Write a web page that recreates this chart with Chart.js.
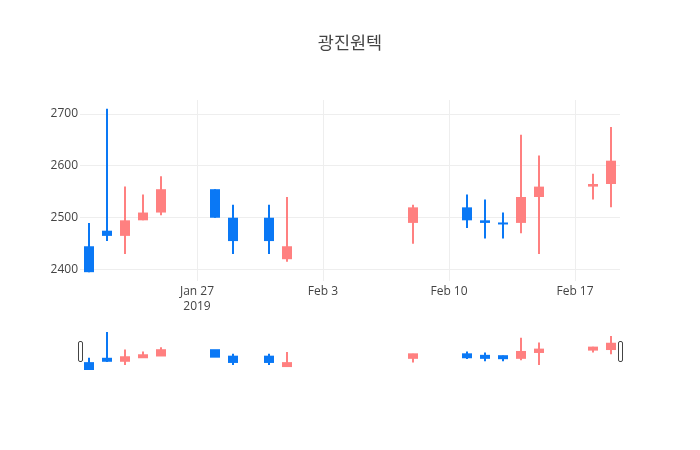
<!DOCTYPE html>
<html><head><meta charset="utf-8">
<script src="https://cdn.jsdelivr.net/npm/chart.js@4.4.1/dist/chart.umd.min.js"></script>
<style>
html,body{margin:0;padding:0;background:#fff;}
#wrap{position:relative;width:700px;height:450px;}
canvas{position:absolute;left:0;top:0;}
</style>
</head><body>
<div id="wrap"><canvas id="main" width="700" height="450"></canvas><canvas id="slider" width="700" height="450"></canvas></div>
<script>
const TITLE = '광진원텍';
const DATES = ['2019-01-21','2019-01-22','2019-01-23','2019-01-24','2019-01-25','2019-01-28','2019-01-29','2019-01-31','2019-02-01','2019-02-08','2019-02-11','2019-02-12','2019-02-13','2019-02-14','2019-02-15','2019-02-18','2019-02-19'];
const OPEN  = [2445,2475,2465,2495,2510,2555,2500,2500,2420,2490,2520,2495,2490,2490,2540,2560,2565];
const HIGH  = [2490,2710,2560,2545,2580,2555,2525,2525,2540,2525,2545,2535,2510,2660,2620,2585,2675];
const LOW   = [2395,2455,2430,2495,2505,2500,2430,2430,2415,2450,2480,2460,2460,2470,2430,2535,2520];
const CLOSE = [2395,2465,2495,2510,2555,2500,2455,2455,2445,2520,2495,2490,2487,2540,2560,2565,2610];
const Y_TICKS = [2400,2500,2600,2700];
const X_TICK_DATES = ['2019-01-27','2019-02-03','2019-02-10','2019-02-17'];
const X_TICK_LABELS = [['Jan 27','2019'],['Feb 3'],['Feb 10'],['Feb 17']];
const X_RANGE = ['2019-01-20T12','2019-02-19T12'];
const Y_RANGE = [2378, 2727];

const UP = '#ff8080', DOWN = '#0a78f5';
const FONT = "'Open Sans', 'Noto Sans CJK KR', sans-serif";
const BASE = Date.UTC(2019,0,27);
function toDay(s){
  const parts = s.split('T');
  const [Y,M,D] = parts[0].split('-').map(Number);
  const h = parts[1] ? Number(parts[1]) : 0;
  return (Date.UTC(Y,M-1,D,h) - BASE)/86400000;
}
const X_TICKS = X_TICK_DATES.map(toDay);
const colors = DATES.map((d,i)=> CLOSE[i] > OPEN[i] ? UP : DOWN);

function makeDatasets(bodyWidth, inflate){
  return [
    {data: DATES.map((d,i)=>({x:toDay(d), y:[LOW[i],HIGH[i]]})), backgroundColor: colors, barThickness: 2, grouped:false, borderWidth:0, inflateAmount:0},
    {data: DATES.map((d,i)=>({x:toDay(d), y:[OPEN[i],CLOSE[i]]})), backgroundColor: colors, barThickness: bodyWidth, grouped:false, borderWidth:0, minBarLength:2, inflateAmount:inflate}
  ];
}

new Chart(document.getElementById('main'), {
  type:'bar',
  data:{datasets: makeDatasets(10, 0)},
  options:{
    responsive:false, animation:false,
    layout:{padding:{left:0,right:0,top:0,bottom:129}},
    plugins:{legend:{display:false}, tooltip:{enabled:false},
      title:{display:true, text:TITLE, color:'#444', font:{family:FONT,size:17.5,weight:'normal',lineHeight:1.2}, padding:{top:34,bottom:45}}},
    scales:{
      x:{type:'linear', min:toDay(X_RANGE[0]), max:toDay(X_RANGE[1]), offset:false,
        grid:{color:'#eee', drawTicks:false, offset:false}, border:{display:false},
        ticks:{color:'#444', font:{family:FONT,size:12,lineHeight:1.28}, padding:3, maxRotation:0, autoSkip:false,
          callback:(v)=>{const i = X_TICKS.indexOf(v); return i>=0 ? X_TICK_LABELS[i] : '';}},
        afterBuildTicks:(s)=>{s.ticks = X_TICKS.map(v=>({value:v}));},
        afterFit:(s)=>{s.height = 40;}},
      y:{type:'linear', min:Y_RANGE[0], max:Y_RANGE[1],
        grid:{color:'#eee', drawTicks:false}, border:{display:false},
        ticks:{color:'#444', font:{family:FONT,size:12}, padding:2, callback:(v)=>String(v)},
        afterBuildTicks:(s)=>{s.ticks = Y_TICKS.map(v=>({value:v}));},
        afterFit:(s)=>{s.width = 80;}},
      yRight:{type:'linear', position:'right', min:Y_RANGE[0], max:Y_RANGE[1],
        grid:{display:false, drawTicks:false}, border:{display:false}, ticks:{display:false},
        afterFit:(s)=>{s.width = 80;}}
    }
  }
});

const handles = {
  id:'handles',
  afterDraw(chart){
    const a = chart.chartArea, ctx = chart.ctx;
    const cy = (a.top + a.bottom)/2;
    ctx.save();
    ctx.fillStyle = '#fff'; ctx.strokeStyle = '#444'; ctx.lineWidth = 1;
    [a.left, a.right].forEach(x=>{
      ctx.beginPath();
      ctx.roundRect(Math.round(x-2)+0.5, Math.round(cy-10)+0.5, 4, 20, 1.5);
      ctx.fill(); ctx.stroke();
    });
    ctx.restore();
  }
};

new Chart(document.getElementById('slider'), {
  type:'bar',
  data:{datasets: makeDatasets(8, 1)},
  plugins:[handles],
  options:{
    responsive:false, animation:false,
    layout:{padding:{left:80,right:80,top:330,bottom:79}},
    plugins:{legend:{display:false}, tooltip:{enabled:false}, title:{display:false}},
    scales:{
      x:{type:'linear', display:false, min:toDay(X_RANGE[0]), max:toDay(X_RANGE[1]), offset:false},
      y:{type:'linear', display:false, min:Y_RANGE[0], max:Y_RANGE[1]}
    }
  }
});
</script>
</body></html>
